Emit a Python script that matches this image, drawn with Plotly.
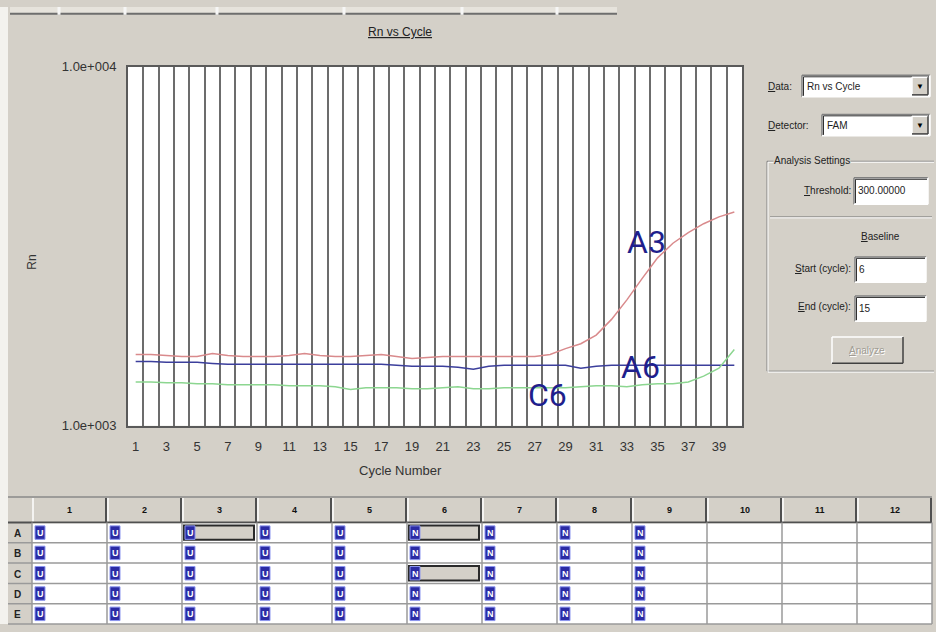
import math
import plotly.graph_objects as go

W, H = 936, 632

# ---------------- data ----------------
cycles = list(range(1, 41))
rn_A3 = [1579, 1579, 1569, 1559, 1559, 1589, 1569, 1559, 1559, 1559,
         1569, 1589, 1569, 1559, 1559, 1569, 1579, 1559, 1539, 1549,
         1559, 1559, 1559, 1559, 1559, 1559, 1559, 1579, 1640, 1692,
         1789, 1978, 2242, 2573, 2934, 3223, 3452, 3652, 3815, 3937]
rn_A6 = [1511, 1511, 1502, 1502, 1502, 1492, 1483, 1483, 1483, 1483,
         1483, 1483, 1483, 1483, 1483, 1483, 1483, 1474, 1465, 1465,
         1465, 1456, 1438, 1465, 1474, 1474, 1474, 1474, 1474, 1447,
         1465, 1474, 1474, 1474, 1474, 1474, 1474, 1474, 1474, 1474]
rn_C6 = [1325, 1325, 1317, 1317, 1309, 1309, 1301, 1301, 1301, 1301,
         1293, 1293, 1293, 1285, 1262, 1276, 1276, 1276, 1269, 1269,
         1276, 1285, 1269, 1269, 1276, 1276, 1276, 1276, 1276, 1285,
         1293, 1293, 1285, 1301, 1309, 1309, 1325, 1375, 1447, 1630]
series_names = ["A3", "A6", "C6"]
x_ticks = list(range(1, 40, 2))
y_tickvals = [1000, 10000]
y_ticktext = ["1.0e+003", "1.0e+004"]
# curve label anchors (cycle, Rn)
label_pos = {"A3": (34.3, 3250), "A6": (33.9, 1460), "C6": (27.8, 1218)}

plate_rows = ["A", "B", "C", "D", "E"]
plate_cols = ["1", "2", "3", "4", "5", "6", "7", "8", "9", "10", "11", "12"]
well_task = ["U", "U", "U", "U", "U", "N", "N", "N", "N", "", "", ""]
selected_wells = [("A", "3"), ("A", "6"), ("C", "6")]

# ---------------- styles ----------------
UI = "Liberation Sans, Arial, sans-serif"
GREY = "#d4d0c8"
colors = {"A3": "#d98a8c", "A6": "#3c3f9c", "C6": "#8cd690"}

shapes, annots = [], []


def X(p):
    return p / W


def Y(p):
    return 1 - p / H


def rect(x0, y0, x1, y1, fill=None, line=None, lw=1):
    shapes.append(dict(type="rect", xref="paper", yref="paper",
                       x0=X(x0), x1=X(x1), y0=Y(y1), y1=Y(y0),
                       fillcolor=fill or "rgba(0,0,0,0)",
                       line=dict(color=line or "rgba(0,0,0,0)", width=lw if line else 0),
                       layer="above"))


def seg(x0, y0, x1, y1, color, w=1):
    shapes.append(dict(type="line", xref="paper", yref="paper",
                       x0=X(x0), x1=X(x1), y0=Y(y0), y1=Y(y1),
                       line=dict(color=color, width=w), layer="above"))


def text(x, y, s, size=11, color="#222", xanchor="left", family=UI, bg=None):
    annots.append(dict(x=X(x), y=Y(y), xref="paper", yref="paper", text=s,
                       showarrow=False, xanchor=xanchor, yanchor="middle",
                       font=dict(size=size, color=color, family=family),
                       bgcolor=bg, borderpad=0))


def sunken(x0, y0, x1, y1):
    rect(x0, y0, x1, y1, fill="white")
    seg(x0, y0, x1, y0, "#808080", 1.5)
    seg(x0, y0, x0, y1, "#808080", 1.5)
    seg(x0 + 1.5, y0 + 1.5, x1 - 1, y0 + 1.5, "#303030", 1)
    seg(x0 + 1.5, y0 + 1.5, x0 + 1.5, y1 - 1, "#303030", 1)
    seg(x0, y1, x1, y1, "#ffffff", 1.5)
    seg(x1, y0, x1, y1, "#ffffff", 1.5)


def raised(x0, y0, x1, y1):
    rect(x0, y0, x1, y1, fill=GREY)
    seg(x0, y0, x1, y0, "#ffffff", 1.5)
    seg(x0, y0, x0, y1, "#ffffff", 1.5)
    seg(x0, y1, x1, y1, "#404040", 1.5)
    seg(x1, y0, x1, y1, "#404040", 1.5)


# left light strip
rect(0, 0, 8, H, fill="#f3f2ee")

# top tab strip
rect(10, 0, 617, 7, fill="#e6e3dc")
seg(10, 7, 617, 7, "#6e6e6e", 2)
for sx in [59, 125, 217, 344, 462, 557]:
    seg(sx, 0, sx, 8, "#f6f6f6", 3)

# title and axis labels
text(400, 26, "<u>Rn vs Cycle</u>", size=12, color="#222", xanchor="center")
annots.append(dict(x=X(32), y=Y(262), xref="paper", yref="paper", text="Rn",
                   xanchor="center", yanchor="middle",
                   showarrow=False, textangle=-90, font=dict(size=12, color="#333", family=UI)))
text(400, 475, "Cycle Number", size=13, color="#333", xanchor="center")

# ---------------- right panel ----------------
text(767, 81, "<u>D</u>ata:", size=10)
sunken(802, 70, 930, 92)
text(806, 81, "Rn vs Cycle", size=10)
raised(912, 72, 928, 90)
text(920, 81, "▼", size=8, color="#000", xanchor="center")

text(767, 121, "<u>D</u>etector:", size=10)
sunken(822, 110, 930, 132)
text(826, 121, "FAM", size=10)
raised(912, 112, 928, 130)
text(920, 121, "▼", size=8, color="#000", xanchor="center")

# group box
for (c, o) in [("#808080", 0), ("#ffffff", 1)]:
    seg(767 + o, 158 + o, 934, 158 + o, c, 1)
    seg(767 + o, 158 + o, 767 + o, 373 + o, c, 1)
    seg(767 + o, 373 + o, 934, 373 + o, c, 1)
text(773, 157, "Analysis Settings", size=10, bg=GREY)

text(852, 188, "<u>T</u>hreshold:", size=10, xanchor="right")
sunken(854, 175, 928, 202)
text(857, 188, "300.00000", size=10)
seg(770, 215, 932, 215, "#808080", 1)
seg(770, 216, 932, 216, "#ffffff", 1)

text(880, 235, "<u>B</u>aseline", size=10, xanchor="center")
text(852, 268, "<u>S</u>tart (cycle):", size=10, xanchor="right")
sunken(855, 256, 926, 282)
text(858, 269, "6", size=10)
text(852, 307, "<u>E</u>nd (cycle):", size=10, xanchor="right")
sunken(855, 296, 926, 322)
text(858, 309, "15", size=10)

raised(832, 338, 903, 365)
text(868, 352.6, "<u>A</u>nalyze", size=10, color="#ffffff", xanchor="center")
text(867, 351.5, "<u>A</u>nalyze", size=10, color="#a09c94", xanchor="center")

# ---------------- plate table ----------------
tbl_l, lab_l = 32, 8
col_w = 75
hdr_t, hdr_b = 502, 528
row_h = 20.8
tbl_r = tbl_l + col_w * len(plate_cols)

rect(lab_l, hdr_t, tbl_r, H, fill=GREY)
seg(lab_l, hdr_t, tbl_r, hdr_t, "#8a8a8a", 1.5)
for i, c in enumerate(plate_cols):
    x0 = tbl_l + i * col_w
    seg(x0 + 1, hdr_t + 1, x0 + 1, hdr_b, "#ffffff", 1.5)
    seg(x0 + col_w - 1, hdr_t + 1, x0 + col_w - 1, hdr_b, "#505050", 2)
    text(x0 + col_w / 2, (hdr_t + hdr_b) / 2, "<b>%s</b>" % c, size=9, color="#111", xanchor="center")
seg(lab_l, hdr_b, tbl_r, hdr_b, "#505050", 2)
rect(tbl_l, hdr_b + 1, tbl_r, H, fill="white")
for r, rl in enumerate(plate_rows):
    y0 = hdr_b + r * row_h
    y1 = y0 + row_h
    text(13, (y0 + y1) / 2 + 1, "<b>%s</b>" % rl, size=10, color="#222")
    seg(lab_l, y1, tbl_r, y1, "#9a9a9a", 1.5)
for i in range(len(plate_cols) + 1):
    xx = tbl_l + i * col_w
    seg(xx, hdr_b, xx, H, "#9a9a9a", 1.5)
for r, rl in enumerate(plate_rows):
    y0 = hdr_b + r * row_h
    y1 = y0 + row_h
    for i, c in enumerate(plate_cols):
        x0 = tbl_l + i * col_w
        if (rl, c) in selected_wells:
            rect(x0 + 2, y0 + 3, x0 + col_w - 3, y1 - 3, fill=GREY, line="#2a2a2a", lw=2)
        t = well_task[i]
        if t:
            rect(x0 + 3, y0 + 3.5, x0 + 13, y1 - 3.5, fill="#2b2ba4", line="#8c96f0", lw=1)
            text(x0 + 8, (y0 + y1) / 2 + 0.5, "<b>%s</b>" % t, size=9, color="white", xanchor="center")

# ---------------- chart ----------------
fig = go.Figure()
for name, vals in zip(series_names, [rn_A3, rn_A6, rn_C6]):
    fig.add_trace(go.Scatter(x=cycles, y=vals, mode="lines", name=name,
                             line=dict(color=colors[name], width=1.5), showlegend=False))

for name in series_names:
    cx, cy = label_pos[name]
    annots.append(dict(x=cx, y=math.log10(cy), xref="x", yref="y", text=name, showarrow=False,
                       font=dict(size=32, color="#1f1f8c", family="Liberation Sans Narrow, Roboto, sans-serif")))

fig.update_layout(
    width=W, height=H, autosize=False,
    margin=dict(l=0, r=0, t=0, b=0),
    paper_bgcolor=GREY, plot_bgcolor="white",
    shapes=shapes, annotations=annots,
    xaxis=dict(domain=[X(128), X(742)], range=[0.5, 40.5], tickvals=x_ticks,
               showgrid=False, zeroline=False, showline=True, mirror=True,
               linecolor="#5a5a5a", linewidth=2, ticks="", ticklabelstandoff=8,
               tickfont=dict(size=13, color="#333", family=UI),
               minor=dict(tick0=0.5, dtick=1, showgrid=True, gridcolor="#6c6c6c", gridwidth=1.7, ticks="")),
    yaxis=dict(domain=[Y(429), Y(61)], type="log", range=[3, 4], tickvals=y_tickvals,
               ticktext=y_ticktext, showgrid=False, zeroline=False, showline=True, mirror=True,
               linecolor="#5a5a5a", linewidth=2, ticks="", ticklabelstandoff=7,
               tickfont=dict(size=13, color="#333", family=UI)),
)

fig.write_html("out.html")
